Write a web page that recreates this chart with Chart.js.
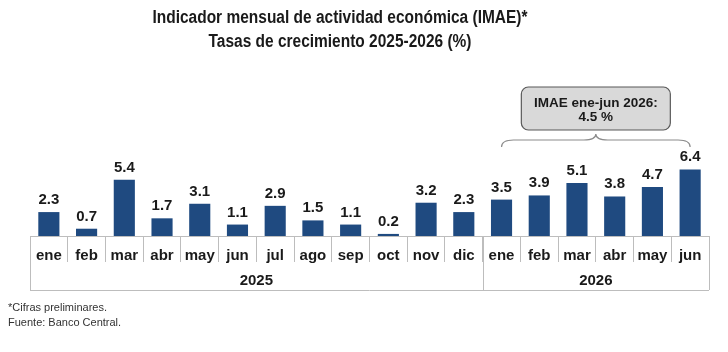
<!DOCTYPE html>
<html>
<head>
<meta charset="utf-8">
<script src="https://cdn.jsdelivr.net/npm/chart.js@4.4.0/dist/chart.umd.min.js"></script>
<style>
  html, body { margin: 0; padding: 0; background: #fff; }
</style>
</head>
<body>
<canvas id="imae" width="728" height="352"></canvas>
<script>
const months = ['ene','feb','mar','abr','may','jun','jul','ago','sep','oct','nov','dic',
                'ene','feb','mar','abr','may','jun'];
const growth = [2.3, 0.7, 5.4, 1.7, 3.1, 1.1, 2.9, 1.5, 1.1, 0.2, 3.2, 2.3,
                3.5, 3.9, 5.1, 3.8, 4.7, 6.4];
const years = ['2025', '2026'];
const yearSpan = [12, 6];
const titleLines = ['Indicador mensual de actividad económica (IMAE)*', 'Tasas de crecimiento 2025-2026 (%)'];
const calloutLines = ['IMAE ene-jun 2026:', '4.5 %'];
const notes = ['*Cifras preliminares.', 'Fuente: Banco Central.'];

const BLUE = '#1f4a80';
const SANS = '"Liberation Sans", Arial, sans-serif';

Chart.defaults.font.family = SANS;

const ctx = document.getElementById('imae');

// condensed text: no narrow font installed, so squeeze horizontally
function narrowText(c, txt, cx, cy, squeeze) {
  c.save();
  c.translate(cx, cy);
  c.scale(squeeze, 1);
  c.fillText(txt, 0, 0);
  c.restore();
}

// extra drawing: title, value labels, year row, callout, notes
const decor = {
  id: 'decor',
  afterDraw(chart) {
    const c = chart.ctx;
    const x = chart.scales.x;
    const area = chart.chartArea;
    const half = (x.getPixelForValue(1) - x.getPixelForValue(0)) / 2;
    c.save();

    // title
    c.fillStyle = '#1a1a1a';
    c.textAlign = 'center';
    c.textBaseline = 'middle';
    c.font = 'bold 18px ' + SANS;
    narrowText(c, titleLines[0], 340, 18, 0.86);
    narrowText(c, titleLines[1], 340, 42, 0.86);

    // value labels
    c.font = 'bold 15px ' + SANS;
    c.textBaseline = 'alphabetic';
    chart.getDatasetMeta(0).data.forEach((bar, i) => {
      c.fillText(growth[i].toFixed(1), bar.x, bar.y - 8);
    });

    // year row
    const top = area.bottom;
    const bottom = x.bottom;
    c.strokeStyle = '#bdbdbd';
    c.lineWidth = 1;
    let start = 0;
    c.font = 'bold 15px ' + SANS;
    c.textBaseline = 'middle';
    years.forEach((y, k) => {
      const l = x.getPixelForValue(start) - half;
      const r = x.getPixelForValue(start + yearSpan[k] - 1) + half;
      c.beginPath();
      c.moveTo(Math.round(l) + 0.5, top);
      c.lineTo(Math.round(l) + 0.5, bottom);
      c.moveTo(Math.round(r) + 0.5, top);
      c.lineTo(Math.round(r) + 0.5, bottom);
      c.stroke();
      c.fillText(y, (l + r) / 2, bottom - 9);
      start += yearSpan[k];
    });
    c.beginPath();
    c.moveTo(area.left, Math.round(bottom) + 0.5);
    c.lineTo(area.right, Math.round(bottom) + 0.5);
    c.stroke();

    // brace over 2026
    const b0 = x.getPixelForValue(12);
    const b1 = x.getPixelForValue(17);
    const mid = (b0 + b1) / 2;
    const by = 140;
    c.strokeStyle = '#8c8c8c';
    c.lineWidth = 1.2;
    c.beginPath();
    c.moveTo(b0, by + 7);
    c.quadraticCurveTo(b0, by, b0 + 12, by);
    c.lineTo(mid - 12, by);
    c.quadraticCurveTo(mid, by, mid, by - 6);
    c.quadraticCurveTo(mid, by, mid + 12, by);
    c.lineTo(b1 - 12, by);
    c.quadraticCurveTo(b1, by, b1, by + 7);
    c.stroke();

    // callout box
    const bw = 149, bh = 43;
    const bx = mid - bw / 2, byTop = 87;
    c.beginPath();
    c.roundRect(bx, byTop, bw, bh, 7);
    c.fillStyle = '#d9d9d9';
    c.fill();
    c.strokeStyle = '#595959';
    c.lineWidth = 1.2;
    c.stroke();
    c.fillStyle = '#1a1a1a';
    c.font = 'bold 13.5px ' + SANS;
    c.fillText(calloutLines[0], mid, byTop + 16);
    c.fillText(calloutLines[1], mid, byTop + 30);

    // notes
    c.textAlign = 'left';
    c.font = '11px ' + SANS;
    c.fillStyle = '#333';
    c.fillText(notes[0], 8, 308);
    c.fillText(notes[1], 8, 323);

    c.restore();
  }
};

new Chart(ctx, {
  type: 'bar',
  data: {
    labels: months,
    datasets: [{
      label: 'IMAE',
      data: growth,
      backgroundColor: BLUE,
      categoryPercentage: 1,
      barPercentage: 0.56
    }]
  },
  options: {
    responsive: false,
    animation: false,
    devicePixelRatio: 1,
    layout: { padding: { top: 132, left: 30, right: 19, bottom: 62 } },
    plugins: {
      legend: { display: false },
      title: { display: false },
      tooltip: { enabled: false }
    },
    scales: {
      x: {
        afterFit: s => { s.height = 54; },
        border: { display: true, color: '#bdbdbd' },
        grid: {
          offset: true,
          drawOnChartArea: false,
          drawTicks: true,
          tickLength: 26,
          color: '#bdbdbd'
        },
        ticks: {
          padding: -15,
          color: '#1a1a1a',
          font: { size: 15, weight: 'bold' },
          maxRotation: 0,
          autoSkip: false
        }
      },
      y: {
        display: false,
        min: 0,
        max: 10
      }
    }
  },
  plugins: [decor]
});
</script>
</body>
</html>
